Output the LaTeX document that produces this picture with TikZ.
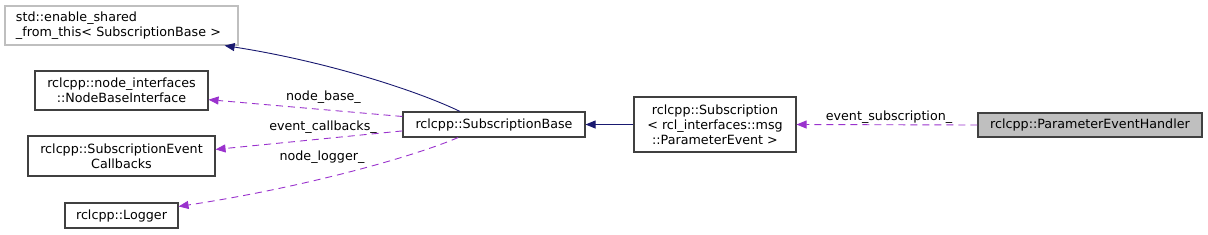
\documentclass[tikz,border=0pt]{standalone}
\usepackage{fontspec}
\setmainfont{DejaVu Sans}
\usetikzlibrary{arrows.meta}
\definecolor{navyedge}{HTML}{191970}
\definecolor{purpedge}{HTML}{9A32CD}
\definecolor{graybd}{HTML}{BFBFBF}
\definecolor{boxbd}{HTML}{404040}
\tikzset{
  cls/.style={draw=boxbd, line width=1.1pt, font=\fontsize{12.7}{15}\selectfont, align=center, inner sep=0pt},
  inh/.style={draw=navyedge, line width=0.9pt, -{Triangle[length=10pt,width=8pt]}},
  use/.style={draw=purpedge, line width=0.9pt, dash pattern=on 7pt off 5pt, -{Triangle[length=10pt,width=8pt]}, color=purpedge},
  lbl/.style={font=\fontsize{12.7}{15}\selectfont, inner sep=0pt, text=black}
}
\begin{document}
\begin{tikzpicture}[x=1pt,y=-1pt]
\useasboundingbox (0,0) rectangle (1208,234);
\node[cls, draw=graybd, minimum width=233pt, minimum height=39pt, text width=211pt, align=left, inner xsep=11pt] (es) at (121.5,25.5) {std::enable\_shared\\\_from\_this< SubscriptionBase >};
\node[cls, minimum width=173pt, minimum height=39pt] (nb) at (121.5,90.5) {rclcpp::node\_interfaces\\::NodeBaseInterface};
\node[cls, minimum width=187pt, minimum height=40pt] (cb) at (121.5,156) {rclcpp::SubscriptionEvent\\Callbacks};
\node[cls, minimum width=113pt, minimum height=25pt] (lg) at (121.5,215.5) {rclcpp::Logger};
\node[cls, minimum width=182pt, minimum height=25pt] (sb) at (494,124.5) {rclcpp::SubscriptionBase};
\node[cls, minimum width=162pt, minimum height=55pt] (sub) at (715,124.5) {rclcpp::Subscription\\< rcl\_interfaces::msg\\::ParameterEvent >};
\node[cls, fill=graybd, minimum width=224pt, minimum height=24pt] (peh) at (1090,125) {rclcpp::ParameterEventHandler};

\draw[inh] (sub.west) -- (sb.east);
\draw[inh] (sb.159.8) .. controls (420,92) and (330,62) .. (es.349);
\draw[use] (sb.175.3) -- (nb.354.4);
\draw[use] (sb.184.7) -- (cb.4.9);
\draw[use] (sb.200.2) .. controls (410,158) and (300,188) .. (lg.9.5);
\draw[use] (peh.west) -- (sub.east);

\node[lbl] (l1) at (323.5,97) {node\_base\_};
\node[lbl] (l2) at (323,127) {event\_callbacks\_};
\node[lbl] (l3) at (322,157) {node\_logger\_};
\node[lbl] (l4) at (889,117) {event\_subscription\_};
\end{tikzpicture}
\end{document}
